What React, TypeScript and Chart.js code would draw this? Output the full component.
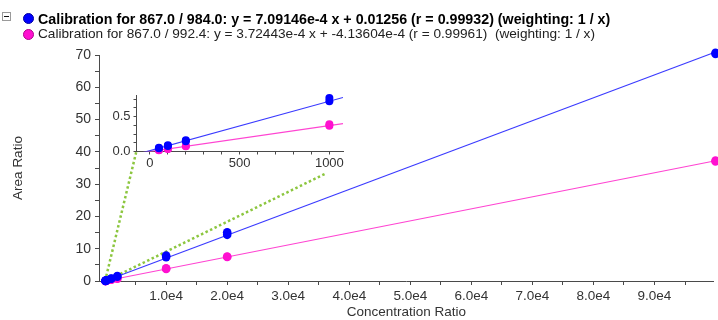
import React, { useEffect, useRef } from "react";
import { Chart, registerables } from "chart.js";

Chart.register(...registerables);

// ---- data ----
const levels = [50, 100, 200, 1000, 2000, 10000, 20000, 100000];
const blueRep1 = [0.047, 0.079, 0.148, 0.72, 1.35, 7.4, 14.3, 70.3];
const blueRep2 = [0.053, 0.088, 0.162, 0.77, 1.55, 7.9, 15.1, 70.7];
const pinkRep1 = [0.017, 0.036, 0.074, 0.37, 0.73, 3.75, 7.45, 37.0];
const pinkRep2 = [0.02, 0.04, 0.079, 0.39, 0.77, 3.9, 7.6, 37.3];

// fitted calibration lines (endpoints from the equations)
const blueFitX = [0, 100000];
const blueFitY = [0.01256, 70.9272];
const pinkFitX = [0, 100000];
const pinkFitY = [-0.000414, 37.2439];
const insetFitX = [-75, 1076];
const insetBlueFitY = [-0.04063, 0.7756];
const insetPinkFitY = [-0.02835, 0.40034];

// zoom connector lines (main chart data space)
const linkAX = [0, 5090];
const linkAY = [0, 39.9];
const linkBX = [1000, 36260];
const linkBY = [0.78, 33.4];

// ticks
const xTickValues = [0, 5000, 10000, 15000, 20000, 25000, 30000, 35000, 40000, 45000, 50000, 55000, 60000, 65000, 70000, 75000, 80000, 85000, 90000, 95000];
const xMajor = [10000, 20000, 30000, 40000, 50000, 60000, 70000, 80000, 90000];
const xLabels = ["1.0e4", "2.0e4", "3.0e4", "4.0e4", "5.0e4", "6.0e4", "7.0e4", "8.0e4", "9.0e4"];
const yTickValues = [0, 5, 10, 15, 20, 25, 30, 35, 40, 45, 50, 55, 60, 65, 70];
const yMajor = [0, 10, 20, 30, 40, 50, 60, 70];
const yLabels = ["0", "10", "20", "30", "40", "50", "60", "70"];
const insetXTickValues = [0, 100, 200, 300, 400, 500, 600, 700, 800, 900, 1000];
const insetXMajor = [0, 500, 1000];
const insetXLabels = ["0", "500", "1000"];
const insetYTickValues = [0, 0.125, 0.25, 0.375, 0.5, 0.625, 0.75];
const insetYMajor = [0, 0.5];
const insetYLabels = ["0.0", "0.5"];

const legendLabels = [
  "Calibration for 867.0 / 984.0: y = 7.09146e-4 x + 0.01256 (r = 0.99932) (weighting: 1 / x)",
  "Calibration for 867.0 / 992.4: y = 3.72443e-4 x + -4.13604e-4 (r = 0.99961)  (weighting: 1 / x)",
];
const xTitle = "Concentration Ratio";
const yTitle = "Area Ratio";

// ---- style ----
const FONT = "'Liberation Sans', Arial, sans-serif";
const AXIS = "#4a4a4a";
const TEXT = "#333333";
const BLUE = "#0000ff";
const BLUE_LINE = "#3a3aff";
const PINK = "#ff10d0";
const PINK_LINE = "#ff44d2";
const GREEN = "#8cc63f";

function pts(xs: number[], ys: number[]) {
  return xs.map((x, i) => ({ x, y: ys[i] }));
}

function setTicks(values: number[]) {
  return (axis: any) => {
    axis.ticks = values.map((v) => ({ value: v }));
  };
}

function labeler(major: number[], labels: string[]) {
  return (value: any) => {
    const i = major.findIndex((m) => Math.abs(m - Number(value)) < 1e-9);
    return i >= 0 ? labels[i] : "";
  };
}

export default function App() {
  const mainRef = useRef<HTMLCanvasElement>(null);
  const insetRef = useRef<HTMLCanvasElement>(null);

  useEffect(() => {
    const tickFont = { family: FONT, size: 13.5 };
    const main = new Chart(mainRef.current as HTMLCanvasElement, {
      type: "scatter",
      data: {
        datasets: [
          { data: pts(levels, blueRep1), backgroundColor: BLUE, borderWidth: 0, pointRadius: 4.3, clip: false as any, order: 0 },
          { data: pts(levels, blueRep2), backgroundColor: BLUE, borderWidth: 0, pointRadius: 4.3, clip: false as any, order: 0 },
          { data: pts(levels, pinkRep1), backgroundColor: PINK, borderWidth: 0, pointRadius: 4.3, clip: false as any, order: 1 },
          { data: pts(levels, pinkRep2), backgroundColor: PINK, borderWidth: 0, pointRadius: 4.3, clip: false as any, order: 1 },
          { data: pts(blueFitX, blueFitY), showLine: true, borderColor: BLUE_LINE, borderWidth: 1.2, pointRadius: 0, clip: false as any, order: 2 },
          { data: pts(pinkFitX, pinkFitY), showLine: true, borderColor: PINK_LINE, borderWidth: 1.2, pointRadius: 0, clip: false as any, order: 3 },
          { data: pts(linkAX, linkAY), showLine: true, borderColor: GREEN, borderWidth: 2.5, borderDash: [2.5, 2.5], pointRadius: 0, clip: false as any, order: 4 },
          { data: pts(linkBX, linkBY), showLine: true, borderColor: GREEN, borderWidth: 2.5, borderDash: [2.5, 2.5], pointRadius: 0, clip: false as any, order: 4 },
        ],
      },
      options: {
        responsive: false,
        animation: false,
        events: [],
        layout: { padding: { top: 55, left: 0, right: 0, bottom: 0 } },
        plugins: { legend: { display: false }, tooltip: { enabled: false } },
        scales: {
          x: {
            type: "linear",
            min: -1000,
            max: 99700,
            afterBuildTicks: setTicks(xTickValues),
            afterFit: (s: any) => {
              s.height = 39;
            },
            grid: { drawOnChartArea: false, drawTicks: true, tickLength: 4, color: AXIS },
            border: { display: true, color: AXIS, width: 1 },
            ticks: { autoSkip: false, maxRotation: 0, padding: 3, color: TEXT, font: tickFont, callback: labeler(xMajor, xLabels) },
            title: { display: true, text: xTitle, color: TEXT, font: tickFont, padding: { top: 0, bottom: 0 } },
          },
          y: {
            type: "linear",
            min: 0,
            max: 70,
            afterBuildTicks: setTicks(yTickValues),
            afterFit: (s: any) => {
              s.width = 99;
            },
            grid: { drawOnChartArea: false, drawTicks: true, tickLength: 4, color: AXIS },
            border: { display: true, color: AXIS, width: 1 },
            ticks: { autoSkip: false, padding: 4, color: TEXT, font: { family: FONT, size: 14 }, callback: labeler(yMajor, yLabels) },
            title: { display: true, text: yTitle, color: TEXT, font: tickFont, padding: { top: 10, bottom: 0 } },
          },
        },
      } as any,
    });

    const insetFont = { family: FONT, size: 13 };
    const inset = new Chart(insetRef.current as HTMLCanvasElement, {
      type: "scatter",
      data: {
        datasets: [
          { data: pts(levels, blueRep1), backgroundColor: BLUE, borderWidth: 0, pointRadius: 4, clip: 6 as any, order: 0 },
          { data: pts(levels, blueRep2), backgroundColor: BLUE, borderWidth: 0, pointRadius: 4, clip: 6 as any, order: 0 },
          { data: pts(levels, pinkRep1), backgroundColor: PINK, borderWidth: 0, pointRadius: 4, clip: 6 as any, order: 1 },
          { data: pts(levels, pinkRep2), backgroundColor: PINK, borderWidth: 0, pointRadius: 4, clip: 6 as any, order: 1 },
          { data: pts(insetFitX, insetBlueFitY), showLine: true, borderColor: BLUE_LINE, borderWidth: 1.2, pointRadius: 0, order: 2 },
          { data: pts(insetFitX, insetPinkFitY), showLine: true, borderColor: PINK_LINE, borderWidth: 1.2, pointRadius: 0, order: 3 },
        ],
      },
      options: {
        responsive: false,
        animation: false,
        events: [],
        layout: { padding: { top: 8, left: 0, right: 7, bottom: 0 } },
        plugins: { legend: { display: false }, tooltip: { enabled: false } },
        scales: {
          x: {
            type: "linear",
            min: -75,
            max: 1076,
            afterBuildTicks: setTicks(insetXTickValues),
            afterFit: (s: any) => {
              s.height = 25.5;
            },
            grid: { drawOnChartArea: false, drawTicks: true, tickLength: 3, color: AXIS },
            border: { display: true, color: AXIS, width: 1 },
            ticks: { autoSkip: false, maxRotation: 0, padding: 1, color: TEXT, font: insetFont, callback: labeler(insetXMajor, insetXLabels) },
          },
          y: {
            type: "linear",
            min: 0,
            max: 0.8,
            afterBuildTicks: setTicks(insetYTickValues),
            afterFit: (s: any) => {
              s.width = 36.5;
            },
            grid: { drawOnChartArea: false, drawTicks: true, tickLength: 3, color: AXIS },
            border: { display: true, color: AXIS, width: 1 },
            ticks: { autoSkip: false, padding: 3, color: TEXT, font: insetFont, callback: labeler(insetYMajor, insetYLabels) },
          },
        },
      } as any,
    });

    return () => {
      main.destroy();
      inset.destroy();
    };
  }, []);

  return (
    <div style={{ position: "fixed", left: 0, top: 0, width: 718, height: 320, background: "#fff", overflow: "hidden" }}>
      <canvas ref={mainRef} width={718} height={320} style={{ position: "absolute", left: 0, top: 0 }} />
      <canvas ref={insetRef} width={250} height={92} style={{ position: "absolute", left: 100, top: 85 }} />
      <div
        style={{
          position: "absolute",
          left: 1.5,
          top: 12,
          width: 9,
          height: 9,
          border: "1px solid #9a9a9a",
          boxSizing: "border-box",
          background: "#fff",
        }}
      >
        <div style={{ position: "absolute", left: 1, right: 1, top: 3, height: 1, background: "#111" }} />
      </div>
      <div
        style={{
          position: "absolute",
          left: 22.5,
          top: 12.5,
          width: 11,
          height: 11,
          borderRadius: "50%",
          background: BLUE,
          border: "1px solid #0000a0",
          boxSizing: "border-box",
        }}
      />
      <div
        style={{
          position: "absolute",
          left: 22.5,
          top: 28.5,
          width: 11,
          height: 11,
          borderRadius: "50%",
          background: PINK,
          border: "1px solid #b0008e",
          boxSizing: "border-box",
        }}
      />
      <div
        style={{
          position: "absolute",
          left: 38,
          top: 10.5,
          fontFamily: FONT,
          fontWeight: "bold",
          fontSize: 14.25,
          lineHeight: "16px",
          whiteSpace: "pre",
          color: "#000",
        }}
      >
        {legendLabels[0]}
      </div>
      <div
        style={{
          position: "absolute",
          left: 38,
          top: 26.3,
          fontFamily: FONT,
          fontSize: 13.65,
          lineHeight: "16px",
          whiteSpace: "pre",
          color: "#222",
        }}
      >
        {legendLabels[1]}
      </div>
    </div>
  );
}
